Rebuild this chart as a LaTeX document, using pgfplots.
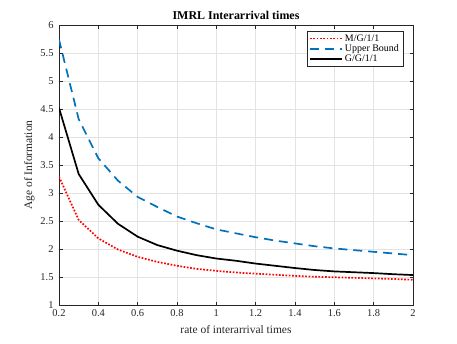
\documentclass[border=0pt]{standalone}
\usepackage{fontspec}
\setmainfont{Liberation Serif}
\usepackage{pgfplots}
\pgfplotsset{compat=1.18}
\definecolor{mblue}{rgb}{0,0.447,0.741}
\definecolor{axgray}{rgb}{0.15,0.15,0.15}
\begin{document}
\begin{tikzpicture}[x=1bp,y=1bp]
\useasboundingbox (0,0) rectangle (457,343);
\begin{axis}[
  at={(59bp,38bp)}, anchor=south west,
  scale only axis, width=354bp, height=280bp,
  xmin=0.2, xmax=2, ymin=1, ymax=6,
  xtick={0.2,0.4,0.6,0.8,1,1.2,1.4,1.6,1.8,2},
  ytick={1,1.5,2,2.5,3,3.5,4,4.5,5,5.5,6},
  /pgf/number format/assume math mode=true,
  tick label style={font=\fontsize{10.5}{12}\selectfont, text=axgray},
  xticklabel style={yshift=-1.5bp},
  yticklabel style={xshift=-2bp},
  tick align=inside, tick pos=both,
  major tick length=3.5bp,
  every tick/.style={axgray, thin},
  axis line style={axgray, thin},
  grid=major, major grid style={gray!22, line width=0.4bp},
  title={\textbf{IMRL Interarrival times}},
  title style={font=\fontsize{12}{14}\selectfont, yshift=-4bp},
  xlabel={rate of interarrival times},
  ylabel={Age of Information},
  label style={font=\fontsize{11.5}{13}\selectfont, text=axgray},
  xlabel style={yshift=-1bp},
  ylabel style={yshift=-1bp},
  legend cell align=left,
  legend image code/.code={\draw[#1] (0bp,0bp) -- (32bp,0bp);},
  legend style={at={(rel axis cs:0.972,0.979)}, anchor=north east,
    font=\fontsize{10}{11}\selectfont, draw=axgray, inner xsep=2bp, inner ysep=1.5bp, row sep=-2bp},
]
\addplot[red, line width=1.7bp, dash pattern=on 1.7bp off 1.6bp] coordinates {
(0.2,3.29) (0.3,2.52) (0.4,2.19) (0.5,1.99) (0.6,1.86) (0.7,1.77) (0.8,1.70) (0.9,1.645) (1.0,1.61)
(1.1,1.58) (1.2,1.56) (1.3,1.54) (1.4,1.52) (1.5,1.505) (1.6,1.495) (1.7,1.485) (1.8,1.475) (1.9,1.465) (2.0,1.45)};
\addlegendentry{M/G/1/1}
\addplot[mblue, line width=1.7bp, dash pattern=on 9bp off 6bp] coordinates {
(0.2,5.74) (0.3,4.32) (0.4,3.62) (0.5,3.22) (0.6,2.93) (0.7,2.75) (0.8,2.58) (0.9,2.46) (1.0,2.35)
(1.1,2.28) (1.2,2.21) (1.3,2.15) (1.4,2.10) (1.5,2.05) (1.6,2.01) (1.7,1.98) (1.8,1.95) (1.9,1.92) (2.0,1.89)};
\addlegendentry{Upper Bound}
\addplot[black, line width=1.7bp] coordinates {
(0.2,4.52) (0.3,3.34) (0.4,2.79) (0.5,2.45) (0.6,2.22) (0.7,2.07) (0.8,1.97) (0.9,1.89) (1.0,1.83)
(1.1,1.79) (1.2,1.74) (1.3,1.70) (1.4,1.66) (1.5,1.625) (1.6,1.60) (1.7,1.585) (1.8,1.57) (1.9,1.55) (2.0,1.535)};
\addlegendentry{G/G/1/1}
\end{axis}
\end{tikzpicture}
\end{document}
